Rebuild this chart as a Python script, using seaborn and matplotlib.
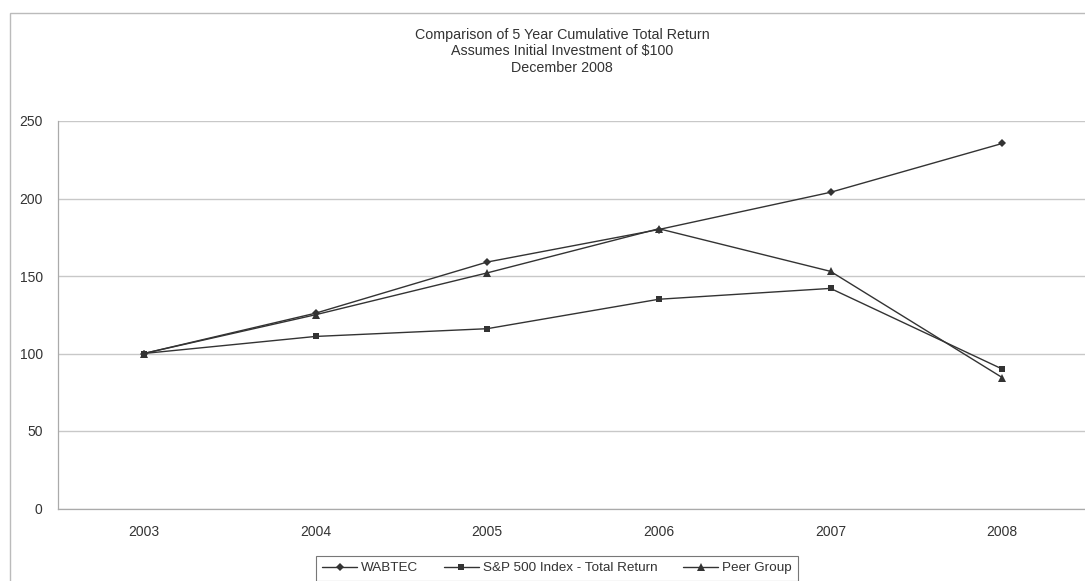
## Import Libraries

import pandas as pd
import matplotlib
matplotlib.use("Agg")
import matplotlib.pyplot as plt
from matplotlib.patches import Rectangle
from matplotlib.ticker import FixedLocator
import seaborn as sns

# chart data
years = ["2003", "2004", "2005", "2006", "2007", "2008"]
wabtec = [100, 126, 159, 180, 204, 235.5]
sp500 = [100, 111, 116, 135, 142, 90]
peer_group = [100, 125, 152, 180.5, 153, 84.5]
series_names = ["WABTEC", "S&P 500 Index - Total Return", "Peer Group"]
title_lines = ["Comparison of 5 Year Cumulative Total Return",
               "Assumes Initial Investment of $100",
               "December 2008"]

MARKERS = {"WABTEC": "D", "S&P 500 Index - Total Return": "s", "Peer Group": "^"}
MARKER_SIZES = {"D": 4.3, "s": 4.5, "^": 5.5}


def build_frame():
    """
    Long-form table for seaborn.
    """
    rows = []
    for name, vals in zip(series_names, [wabtec, sp500, peer_group]):
        for i, (yr, v) in enumerate(zip(years, vals)):
            rows.append({"pos": i, "year": yr, "series": name, "value": v})
    return pd.DataFrame(rows)


def plot_returns(df):
    sns.set_style("white")
    plt.rcParams["font.family"] = ["Liberation Sans", "DejaVu Sans"]
    text_col = "#333333"
    line_col = "#333333"
    grid_col = "#c8c8c8"

    fig = plt.figure(figsize=(10.85, 5.81), dpi=100)
    ax = fig.add_axes([58 / 1085, 1 - 508.5 / 581, 1030 / 1085, 387.5 / 581])

    sns.lineplot(
        data=df, x="pos", y="value",
        hue="series", style="series",
        hue_order=series_names, style_order=series_names,
        palette={n: line_col for n in series_names},
        markers=MARKERS, dashes=False, linewidth=1.0, markeredgewidth=0,
        ax=ax, legend=True,
    )

    handles, labels = ax.get_legend_handles_labels()
    ax.get_legend().remove()
    for ln in list(ax.lines) + list(handles):
        m = ln.get_marker()
        if m in MARKER_SIZES:
            ln.set_markersize(MARKER_SIZES[m])
            ln.set_markeredgewidth(0)

    ax.set_xlim(-0.5, len(years) - 0.5)
    ax.set_ylim(0, 250)
    ax.set_yticks(range(0, 251, 50))
    ax.set_xticks(range(len(years)))
    ax.set_xticklabels(years)
    ax.xaxis.set_minor_locator(FixedLocator([i + 0.5 for i in range(len(years) - 1)]))
    ax.tick_params(axis="x", which="major", length=0, pad=12, labelsize=10, labelcolor=text_col)
    ax.tick_params(axis="x", which="minor", length=4, direction="in", color="#999999", width=0.8)
    ax.tick_params(axis="y", length=5, color=grid_col, width=0.8, pad=6, labelsize=10, labelcolor=text_col)
    ax.yaxis.grid(True, color=grid_col, linewidth=1.0)
    ax.set_axisbelow(True)
    ax.set_xlabel("")
    ax.set_ylabel("")
    for side in ["top", "right"]:
        ax.spines[side].set_visible(False)
    for side in ["left", "bottom"]:
        ax.spines[side].set_color("#aaaaaa")
        ax.spines[side].set_linewidth(0.9)

    # outer chart border
    fig.patches.append(Rectangle((10 / 1085, -0.1), 1.2, 1.1 - 13 / 581,
                                 transform=fig.transFigure, fill=False,
                                 edgecolor="#bbbbbb", linewidth=1.0))

    for i, line in enumerate(title_lines):
        fig.text(562 / 1085, 1 - (35 + 16.5 * i) / 581, line, ha="center", va="center",
                 fontsize=10.3, color=text_col)

    leg = fig.legend(handles, labels, loc="upper center", ncol=3,
                     bbox_to_anchor=(557 / 1085, 1 - 556 / 581),
                     frameon=True, fancybox=False, fontsize=9.7,
                     handlelength=2.6, handletextpad=0.3, columnspacing=1.9,
                     borderpad=0.45, borderaxespad=0, labelcolor=text_col)
    leg.get_frame().set_edgecolor("#555555")
    leg.get_frame().set_linewidth(0.8)

    fig.savefig("out.png", dpi=100)


if __name__ == "__main__":
    plot_returns(build_frame())
